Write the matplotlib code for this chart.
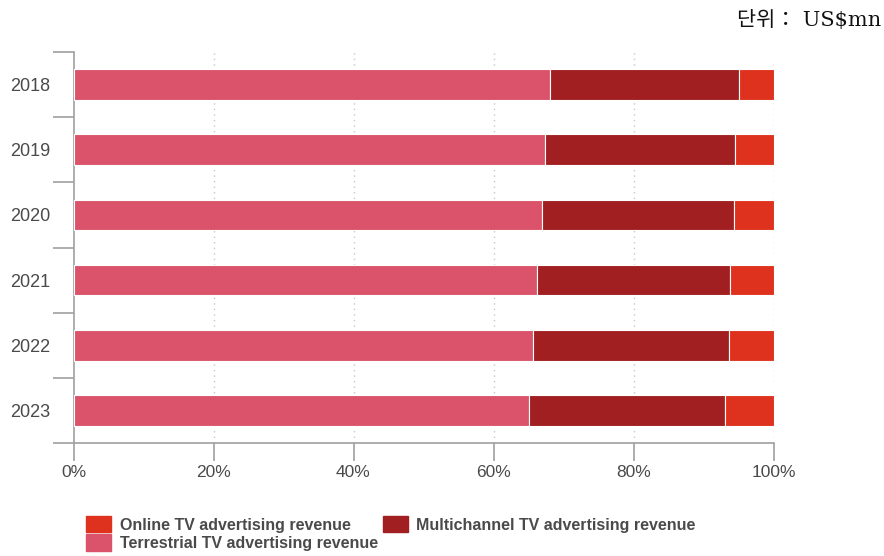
import numpy as np
import matplotlib.pyplot as plt
from matplotlib.patches import Patch

years = ['2018', '2019', '2020', '2021', '2022', '2023']
terrestrial = [68.0, 67.3, 66.9, 66.2, 65.7, 65.0]
multichannel = [27.0, 27.2, 27.4, 27.6, 27.9, 28.1]
online = [5.0, 5.5, 5.7, 6.2, 6.4, 6.9]

c_terr = '#db536a'
c_multi = '#a11f21'
c_online = '#de311e'
grey = '#a0a0a0'
txt = '#4a4a4a'

plt.rcParams['font.family'] = ['Liberation Sans', 'DejaVu Sans']

fig = plt.figure(figsize=(8.84, 5.56), dpi=100)
ax = fig.add_axes([73.5 / 884, 113 / 556, 700 / 884, 391 / 556])

y = np.arange(len(years))
h = 0.47
terr = np.array(terrestrial)
multi = np.array(multichannel)
onl = np.array(online)
ax.barh(y, terr, height=h, color=c_terr, edgecolor='white', linewidth=0.8, zorder=3)
ax.barh(y, multi, left=terr, height=h, color=c_multi, edgecolor='white', linewidth=0.8, zorder=3)
ax.barh(y, onl, left=terr + multi, height=h, color=c_online, edgecolor='white', linewidth=0.8, zorder=3)

ax.set_xlim(0, 100)
ax.set_ylim(len(years) - 0.5, -0.5)

# dotted vertical grid
for xv in [20, 40, 60, 80, 100]:
    ax.axvline(xv, color='#c8c8c8', linestyle=(0, (1, 3)), linewidth=1, zorder=1)

ax.set_xticks([0, 20, 40, 60, 80, 100])
ax.set_xticklabels(['0%', '20%', '40%', '60%', '80%', '100%'])
ax.tick_params(axis='x', length=13, width=1.2, color=grey, labelsize=12.5,
               labelcolor=txt, pad=3)

ax.set_yticks(y)
ax.set_yticklabels(years)
ax.set_yticks(np.arange(-0.5, len(years)), minor=True)
ax.tick_params(axis='y', which='major', length=0, pad=16.5, labelsize=13,
               labelcolor=txt)
ax.tick_params(axis='y', which='minor', length=15, width=1.2, color=grey)

for s in ['top', 'right']:
    ax.spines[s].set_visible(False)
for s in ['left', 'bottom']:
    ax.spines[s].set_color(grey)
    ax.spines[s].set_linewidth(1.2)

handles = [Patch(color=c_online, label='Online TV advertising revenue'),
           Patch(color=c_terr, label='Terrestrial TV advertising revenue'),
           Patch(color=c_multi, label='Multichannel TV advertising revenue')]
leg = fig.legend(handles=handles, ncol=2, loc='upper left',
                 bbox_to_anchor=(86 / 884, 1 - 516 / 556), frameon=False,
                 prop={'size': 11.5, 'weight': 'bold'}, handlelength=1.56,
                 handleheight=1.2, handletextpad=0.55, labelspacing=0.1,
                 columnspacing=0.3, borderpad=0, borderaxespad=0)
for t in leg.get_texts():
    t.set_color(txt)

fig.text(881 / 884, 1 - 20 / 556, '단위： US$mn', ha='right', va='center',
         fontsize=15, family=['DejaVu Serif', 'Noto Sans CJK KR'], color='#111111')

fig.savefig('out.png', dpi=100)
